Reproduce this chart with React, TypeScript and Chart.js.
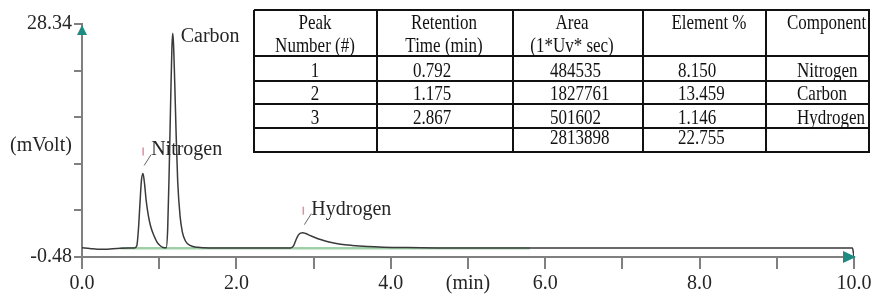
import React, { useEffect, useRef } from "react";
import { Chart, registerables } from "chart.js";
Chart.register(...registerables);

// ---- chromatogram signal (time in min, signal in mV) ----
const signalTime = [
  0, 0.1, 0.2, 0.3, 0.4, 0.5, 0.6, 0.68, 0.71, 0.73, 0.75, 0.77, 0.79, 0.81, 0.83, 0.86, 0.89, 0.93, 0.97,
  1.01, 1.05, 1.09, 1.11, 1.13, 1.15, 1.165, 1.175, 1.185, 1.2, 1.22, 1.24, 1.27, 1.3, 1.34, 1.4, 1.5, 1.7,
  2.0, 2.4, 2.7, 2.74, 2.77, 2.8, 2.83, 2.86, 2.9, 2.95, 3.0, 3.1, 3.2, 3.35, 3.5, 3.7, 3.9, 4.2, 4.6, 5.0,
  5.8, 7.0, 8.5, 9.5, 9.98, 10.0,
];
const signalMv = [
  0.66, 0.58, 0.48, 0.48, 0.55, 0.6, 0.62, 0.63, 0.9, 2.8, 6.0, 9.0, 9.85, 8.6, 6.6, 4.6, 3.3, 2.2, 1.4,
  0.95, 0.7, 0.65, 3.0, 10.5, 19.5, 25.5, 27.2, 26.0, 21.5, 14.5, 8.8, 4.6, 2.6, 1.5, 0.95, 0.72, 0.64,
  0.62, 0.62, 0.64, 0.9, 1.6, 2.2, 2.48, 2.53, 2.42, 2.2, 2.0, 1.65, 1.38, 1.1, 0.95, 0.82, 0.74, 0.68, 0.64, 0.62,
  0.62, 0.62, 0.62, 0.62, 0.62, -0.48,
];
const baselineTime = [0.5, 5.8];
const baselineMv = [0.6, 0.6];

// ---- axes ----
const xTickValues = [0, 1, 2, 3, 4, 5, 6, 7, 8, 9, 10];
const xTickLabels = ["0.0", "", "2.0", "", "4.0", "(min)", "6.0", "", "8.0", "", "10.0"];
const yMin = -0.48;
const yMax = 28.34;
const yTickValues = [-0.48, 5.284, 11.048, 16.812, 22.576, 28.34];
const yTickLabels = ["-0.48", "", "", "", "", "28.34"];
const yTitle = "(mVolt)";

// ---- peaks ----
const peakNames = ["Nitrogen", "Carbon", "Hydrogen"];
const peakTimes = [0.792, 1.175, 2.867];
const peakApexMv = [9.85, 27.2, 2.53];

// ---- table ----
const tableHeader = [["Peak", "Number (#)"], ["Retention", "Time (min)"], ["Area", "(1*Uv* sec)"], ["Element %"], ["Component"]];
const peakNumbers = ["1", "2", "3", ""];
const retentionTimes = ["0.792", "1.175", "2.867", ""];
const areas = ["484535", "1827761", "501602", "2813898"];
const elementPct = ["8.150", "13.459", "1.146", "22.755"];
const components = ["Nitrogen", "Carbon", "Hydrogen", ""];

const FONT = "'Liberation Serif', 'Times New Roman', serif";

const overlayPlugin = {
  id: "overlay",
  afterDraw(chart: any) {
    const ctx = chart.ctx as CanvasRenderingContext2D;
    const xs = chart.scales.x;
    const ys = chart.scales.y;
    const ca = chart.chartArea;
    ctx.save();
    // arrows
    ctx.fillStyle = "#1e8b83";
    ctx.beginPath();
    ctx.moveTo(ca.left, ca.top + 1);
    ctx.lineTo(ca.left - 5, ca.top + 11);
    ctx.lineTo(ca.left + 5, ca.top + 11);
    ctx.closePath();
    ctx.fill();
    ctx.beginPath();
    ctx.moveTo(ca.right + 2, ca.bottom);
    ctx.lineTo(ca.right - 11, ca.bottom - 6);
    ctx.lineTo(ca.right - 11, ca.bottom + 6);
    ctx.closePath();
    ctx.fill();
    // y title
    ctx.font = `20px ${FONT}`;
    ctx.fillStyle = "#262626";
    ctx.textAlign = "left";
    ctx.textBaseline = "alphabetic";
    ctx.fillText(yTitle, 10, 151);
    // peak annotations
    peakNames.forEach((name, i) => {
      const ax = xs.getPixelForValue(peakTimes[i]);
      const ay = ys.getPixelForValue(peakApexMv[i]);
      if (i === 1) {
        ctx.fillStyle = "#262626";
        ctx.fillText(name, ax + 8, ay + 9);
        return;
      }
      ctx.strokeStyle = "#e0909c";
      ctx.lineWidth = 1.5;
      ctx.beginPath();
      ctx.moveTo(ax, ay - 26);
      ctx.lineTo(ax, ay - 18);
      ctx.stroke();
      ctx.strokeStyle = "#666";
      ctx.lineWidth = 1;
      ctx.beginPath();
      ctx.moveTo(ax + 1, ay - 8);
      ctx.lineTo(ax + 8, ay - 19);
      ctx.stroke();
      ctx.fillStyle = "#262626";
      ctx.fillText(name, ax + 8, ay - 18);
    });
    ctx.restore();
  },
};

const rowLines = [10, 56, 81, 104, 128, 152];
const colLines = [254, 377, 513, 643, 766, 869];

function Txt({ x, y, text, center, size = 17 }: { x: number; y: number; text: string; center?: boolean; size?: number }) {
  return (
    <div
      style={{
        position: "absolute",
        left: x,
        top: y,
        fontFamily: FONT,
        fontSize: size,
        lineHeight: 1,
        color: "#111",
        whiteSpace: "nowrap",
        transform: `translate(${center ? "-50%" : "0"}, -50%) scaleY(1.2)`,
      }}
    >
      {text}
    </div>
  );
}

function Table() {
  const rowsY = [69.5, 93, 116.5, 136.5];
  const headCx = [315, 444, 572, 709];
  return (
    <div style={{ position: "absolute", left: 0, top: 0, width: 875, height: 296, pointerEvents: "none" }}>
      {rowLines.map((y, i) => (
        <div key={"h" + i} style={{ position: "absolute", left: 254, top: y - 1, width: 869 - 254 + 1, height: 2, background: "#111" }} />
      ))}
      {colLines.map((x, i) => (
        <div key={"v" + i} style={{ position: "absolute", left: x - 1, top: 10, width: 2, height: 143, background: "#111" }} />
      ))}
      {tableHeader.map((lines, c) =>
        lines.map((t, l) =>
          c < 4 ? (
            <Txt key={`hd${c}${l}`} x={headCx[c]} y={l === 0 ? 22 : 45} text={t} center />
          ) : (
            <Txt key={`hd${c}${l}`} x={787} y={22} text={t} />
          )
        )
      )}
      {rowsY.map((y, r) => (
        <React.Fragment key={"r" + r}>
          <Txt x={315} y={y} text={peakNumbers[r]} center />
          <Txt x={413} y={y} text={retentionTimes[r]} />
          <Txt x={550} y={y} text={areas[r]} />
          <Txt x={678} y={y} text={elementPct[r]} />
          <Txt x={797} y={y} text={components[r]} />
        </React.Fragment>
      ))}
    </div>
  );
}

export default function App() {
  const ref = useRef<HTMLCanvasElement | null>(null);
  useEffect(() => {
    if (!ref.current) return;
    const chart = new Chart(ref.current, {
      type: "line",
      data: {
        datasets: [
          {
            data: signalTime.map((t, i) => ({ x: t, y: signalMv[i] })),
            borderColor: "#3a3a3a",
            borderWidth: 1.5,
            pointRadius: 0,
            cubicInterpolationMode: "monotone",
            fill: false,
          },
          {
            data: baselineTime.map((t, i) => ({ x: t, y: baselineMv[i] })),
            borderColor: "#9fd0a8",
            borderWidth: 2.5,
            pointRadius: 0,
            fill: false,
          },
        ],
      },
      options: {
        animation: false,
        responsive: false,
        devicePixelRatio: 1,
        layout: { padding: { top: 24, right: 21, left: 0, bottom: 0 } },
        plugins: { legend: { display: false }, tooltip: { enabled: false } },
        scales: {
          x: {
            type: "linear",
            min: 0,
            max: 10,
            afterBuildTicks: (s: any) => {
              s.ticks = xTickValues.map((v) => ({ value: v }));
            },
            afterFit: (s: any) => {
              s.height = 39;
            },
            grid: { drawOnChartArea: false, drawTicks: true, tickLength: 12, color: "#808080", lineWidth: 2 },
            border: { display: true, color: "#808080", width: 2 },
            ticks: {
              autoSkip: false,
              maxRotation: 0,
              padding: 3,
              color: "#262626",
              font: { family: FONT, size: 20 },
              callback: (v: any) => {
                const idx = xTickValues.indexOf(Number(v));
                return idx >= 0 ? xTickLabels[idx] : "";
              },
            },
          },
          y: {
            type: "linear",
            min: yMin,
            max: yMax,
            afterBuildTicks: (s: any) => {
              s.ticks = yTickValues.map((v) => ({ value: v }));
            },
            afterFit: (s: any) => {
              s.width = 82;
            },
            grid: { drawOnChartArea: false, drawTicks: true, tickLength: 8, color: "#808080", lineWidth: 2 },
            border: { display: true, color: "#808080", width: 2 },
            ticks: {
              autoSkip: false,
              padding: 2,
              color: "#262626",
              font: { family: FONT, size: 20 },
              callback: (v: any, i: number) => yTickLabels[i] ?? "",
            },
          },
        },
      },
      plugins: [overlayPlugin],
    } as any);
    return () => chart.destroy();
  }, []);
  return (
    <div style={{ position: "absolute", left: 0, top: 0, width: 875, height: 296, background: "#fff" }}>
      <canvas ref={ref} width={875} height={296} style={{ position: "absolute", left: 0, top: 0, display: "block" }} />
      <Table />
    </div>
  );
}
